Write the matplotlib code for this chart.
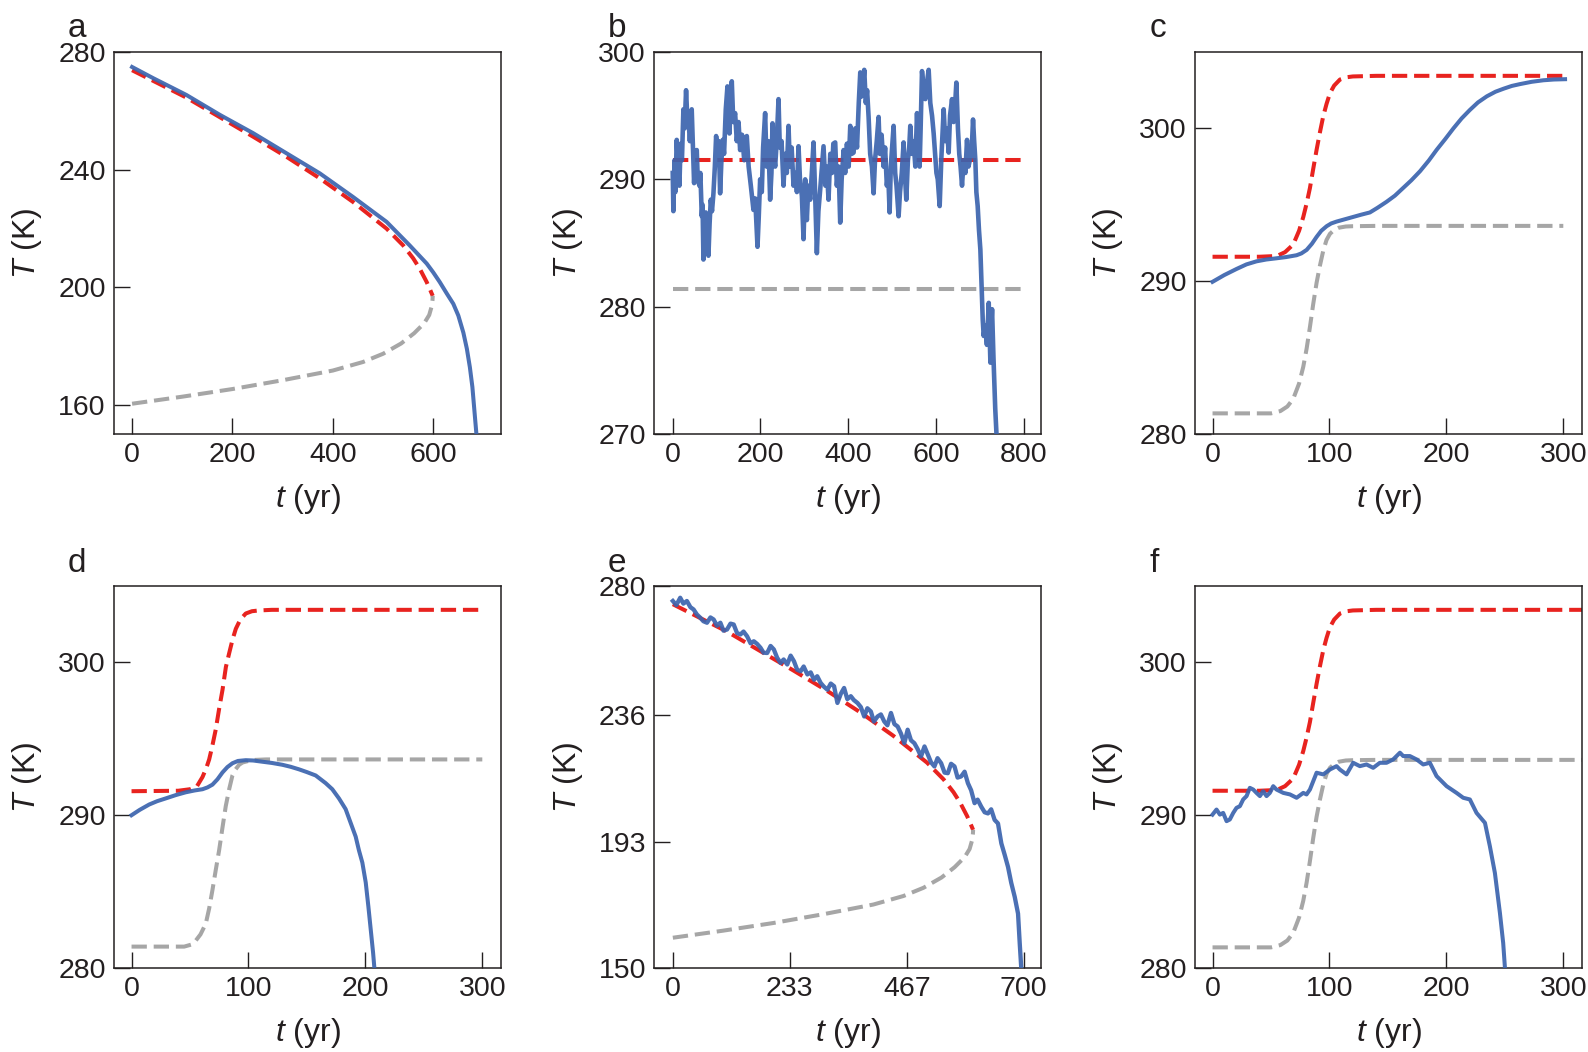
import matplotlib
matplotlib.use("Agg")
from matplotlib import pyplot as plt

# ---- data ----
# panels a and e: stable (red) and unstable (gray) branches
fold_red_t = [0, 50, 108, 175, 241, 308, 374, 440, 507, 540, 560, 573, 587, 594, 599]
fold_red_T = [273.8, 269.5, 264.5, 257.8, 251.2, 244.3, 237.0, 229.0, 219.9, 214.2, 209.8, 206.3, 201.7, 199.0, 197.0]
fold_gray_t = [0, 100, 200, 300, 400, 460, 500, 536, 562, 582, 592, 597, 598.5, 599]
fold_gray_T = [160.3, 162.7, 165.3, 168.3, 171.6, 174.5, 177.3, 180.8, 184.3, 187.7, 190.5, 193.5, 195.5, 197.0]

a_t = [0, 42, 108, 175, 241, 308, 374, 440, 507, 553, 587, 600, 613, 627, 640, 650, 660, 667, 673, 678,
       682, 685, 687, 689]
a_T = [274.9, 271.1, 265.4, 258.6, 252.4, 245.5, 238.7, 230.7, 222.2, 214.2, 208.0, 205.0, 201.7, 197.8,
       194.3, 190.3, 184.5, 179.0, 172.7, 166.0, 158.0, 152.0, 148.0, 145.0]

# panel b
b_eq_t = [0, 800]
b_red = [291.5, 291.5]
b_gray = [281.4, 281.4]
b_t = [0, 1.5, 4, 6, 9.1, 12, 15.2, 18, 21, 24.3, 27, 30.4, 33, 35.7, 39, 43.3, 46, 48.7, 51, 54.8, 57,
       60.8, 63, 66.2, 68, 70.0, 72.5, 75.3, 78, 81.4, 84, 86.7, 89.5, 92.8, 96, 98.9, 102, 105, 108, 111,
       114, 117, 120.9, 124.7, 127, 129.3, 132, 134.6, 138, 142.2, 146, 150, 153.6, 158, 163, 168.8, 173,
       178, 184, 188, 193.2, 196, 199.2, 203, 206, 210.6, 214, 218, 222, 225, 227.4, 230, 233.5, 237,
       241.1, 244, 248, 252.5, 256, 260, 263.9, 267, 271, 275.3, 280, 283, 286.7, 290, 294.3, 298.1,
       301.9, 305.7, 309, 313.3, 317, 320.9, 324, 328.5, 332, 336.1, 340, 343.7, 348, 351, 355.1, 359,
       363, 366, 370.3, 374, 378, 381.7, 385, 389.4, 393, 397, 401, 404.6, 408, 412.2, 416, 420, 424,
       427.4, 430, 433.5, 436.5, 440, 443, 446.4, 450, 454, 457.8, 461, 465, 469.2, 472, 476, 480.6, 484,
       488, 491, 494.3, 497, 500, 503.4, 507, 510, 514.8, 518, 522, 526.2, 529, 532.3, 536, 539, 541.4,
       545, 549, 552.9, 556.7, 559, 562.7, 565, 568.1, 572, 575.7, 579, 583.3, 587, 591, 594.7, 598, 601,
       604, 608.4, 612, 617.5, 621, 625, 628.9, 632, 636.5, 640, 643, 646.4, 650, 653, 656, 659.3, 663,
       667, 670.7, 674, 677, 681, 684.4, 687, 689.7, 692, 695, 698, 701.1, 703, 704.9, 706.5, 708.7, 712,
       716, 720.2, 722, 724, 726, 727.8, 731, 735, 740]
b_T = [290.5, 287.5, 291.5, 289.0, 293.1, 291.0, 289.5, 292.8, 291.5, 295.5, 294.0, 297.0, 295.0, 294.9,
       293.0, 295.5, 292.5, 289.7, 291.5, 292.3, 290.0, 289.5, 290.5, 287.1, 288.0, 283.7, 286.0, 287.4,
       285.0, 284.0, 286.5, 288.4, 287.5, 288.9, 291.0, 293.4, 292.0, 293.0, 288.9, 291.5, 293.1, 292.0,
       295.5, 297.3, 295.5, 293.6, 296.0, 297.7, 294.5, 295.2, 293.0, 294.5, 292.3, 293.5, 291.5, 293.4,
       291.0, 289.5, 287.6, 288.5, 284.7, 287.0, 290.0, 289.0, 292.5, 295.2, 291.0, 293.0, 288.4, 290.5,
       294.4, 292.0, 291.0, 293.0, 296.3, 292.5, 293.0, 289.5, 292.0, 290.5, 294.2, 291.0, 292.5, 289.5,
       290.5, 289.0, 292.6, 290.0, 288.7, 285.3, 290.0, 286.8, 289.5, 288.4, 290.5, 292.9, 289.5, 284.2,
       287.5, 289.2, 291.0, 292.6, 289.5, 291.0, 288.4, 292.0, 290.5, 292.8, 292.9, 289.5, 291.0, 286.6,
       290.0, 292.3, 290.5, 292.8, 291.0, 294.2, 292.0, 292.1, 294.0, 292.5, 296.0, 298.4, 296.5, 297.3,
       298.6, 296.0, 297.0, 294.9, 292.0, 291.0, 288.9, 291.5, 293.0, 294.9, 292.0, 293.5, 291.0, 292.5,
       289.5, 290.5, 287.4, 291.0, 292.5, 294.2, 290.5, 289.5, 287.1, 289.0, 290.5, 292.9, 290.5, 288.4,
       291.5, 292.5, 294.2, 292.0, 293.0, 291.0, 295.2, 293.0, 291.0, 294.0, 298.5, 297.0, 296.3, 297.5,
       298.6, 296.0, 295.0, 293.6, 292.0, 290.5, 290.0, 287.9, 291.5, 295.5, 293.0, 294.0, 292.1, 295.0,
       296.3, 294.5, 295.5, 297.6, 294.0, 292.0, 291.0, 289.5, 291.5, 290.5, 293.1, 291.0, 291.5, 292.0,
       294.7, 293.0, 291.5, 289.0, 287.9, 286.0, 284.5, 282.5, 280.5, 279.0, 277.7, 278.5, 277.0, 280.3,
       278.0, 275.6, 278.5, 279.8, 276.0, 272.0, 268.5]

# panels c and f: shifting equilibria
cf_red_t = [0, 40, 55, 62, 69, 74, 77.6, 80.5, 83.3, 86, 89, 92, 94.7, 97.5, 100.4, 104, 109, 115, 120, 140]
cf_red_T = [291.6, 291.6, 291.65, 291.9, 292.4, 293.3, 294.2, 295.1, 296.1, 297.3, 298.6, 299.8, 300.8,
            301.6, 302.3, 302.8, 303.2, 303.35, 303.4, 303.44]
cf_gray_t = [0, 50, 58, 64, 69, 74, 77.6, 80.5, 83.3, 86.1, 89, 91.8, 94.7, 97.5, 100.4, 104, 108, 114, 120, 140]
cf_gray_T = [281.35, 281.35, 281.5, 281.8, 282.3, 283.3, 284.4, 285.6, 287.0, 288.5, 289.9, 291.0, 292.0,
             292.7, 293.1, 293.35, 293.5, 293.58, 293.6, 293.62]
c_t_end = 300
f_t_end = 320

c_t = [0, 10, 20.5, 29, 37.6, 46, 54.8, 63, 71.9, 76, 80.5, 85, 89, 93, 97.6, 101.5, 106, 113, 120, 127,
       134.6, 141, 148.9, 156, 163, 170, 177.5, 185, 191.7, 199, 206, 213, 220, 227, 234.6, 242, 249, 256,
       263, 273, 283, 292, 301.5]
c_T = [289.96, 290.4, 290.8, 291.1, 291.3, 291.42, 291.5, 291.58, 291.7, 291.82, 292.05, 292.45, 292.9,
       293.3, 293.6, 293.78, 293.9, 294.05, 294.2, 294.35, 294.5, 294.8, 295.2, 295.6, 296.1, 296.6, 297.2,
       297.9, 298.6, 299.3, 300.0, 300.65, 301.2, 301.7, 302.1, 302.4, 302.6, 302.78, 302.9, 303.05, 303.15,
       303.2, 303.22]

# panel d
d_red_t = [0, 40, 50, 56, 60.7, 64, 66.4, 69, 72, 75, 77.8, 80.7, 83.5, 86.4, 89.2, 93, 97.7, 103, 109, 120, 300]
d_red_T = [291.57, 291.6, 291.7, 291.9, 292.5, 293.1, 293.65, 294.5, 295.6, 297.0, 298.2, 299.7, 300.6,
           301.5, 302.2, 302.8, 303.2, 303.35, 303.4, 303.44, 303.44]
d_gray_t = [0, 45, 52, 55, 59, 63.5, 66.4, 69.2, 72, 74.9, 77.8, 80.6, 83.5, 86.3, 89, 92, 95, 100, 106, 115, 300]
d_gray_T = [281.4, 281.4, 281.55, 281.8, 282.2, 282.9, 283.9, 285.1, 286.4, 287.7, 289.2, 290.6, 291.7,
            292.6, 293.0, 293.3, 293.45, 293.55, 293.62, 293.65, 293.65]
d_t = [0, 7, 15.1, 22, 29.3, 38, 46.4, 54, 60.7, 65, 69.2, 73.5, 77.8, 82, 86.3, 91, 97.7, 104, 111.9,
       120, 129, 136, 143.3, 150, 157.5, 166, 171.7, 177.4, 183.1, 187.4, 191.7, 194.5, 197.4, 200.3,
       202.6, 204.6, 206.6, 207.7, 208.5]
d_T = [290.0, 290.35, 290.7, 290.92, 291.1, 291.32, 291.5, 291.62, 291.7, 291.82, 292.0, 292.35, 292.8,
       293.15, 293.4, 293.55, 293.6, 293.58, 293.5, 293.42, 293.3, 293.17, 293.0, 292.82, 292.6, 292.1,
       291.7, 291.1, 290.4, 289.5, 288.6, 287.7, 286.9, 285.6, 284.0, 282.5, 281.0, 280.0, 279.0]

# panel e
e_t = [0, 7, 14.7, 21, 28, 35, 41.4, 48, 54.7, 61, 68.1, 75, 81.4, 88, 94.8, 101, 108.1, 115, 121.4, 128,
       134.8, 141, 148.1, 155, 161.5, 168, 174.8, 181, 188.2, 195, 201.5, 208, 214.9, 221, 228.2, 235,
       241.6, 248, 254.9, 261, 268.3, 275, 281.6, 288, 294.9, 301, 308.3, 315, 321.6, 328.3, 335, 341.6,
       348, 355, 361, 368.3, 375, 381.7, 388, 395, 401, 408.4, 415, 421.7, 428, 435.1, 442, 448.4, 455,
       461.8, 468.4, 475, 481.8, 488, 495.1, 502, 508.5, 515, 521.8, 528, 535.2, 542, 548.5, 555, 561.9,
       568, 575.2, 582, 588.6, 595, 601.9, 608, 615.2, 622, 628.6, 635, 641.9, 648.6, 655.3, 662, 668.6,
       675, 682, 688.6, 692, 695.3]
e_T = [274.9, 273.5, 276.0, 274.0, 274.9, 272.8, 272.0, 270.3, 269.2, 268.0, 267.5, 269.3, 268.6, 266.5,
       267.5, 264.8, 265.2, 267.2, 266.9, 264.0, 263.5, 264.5, 262.9, 260.5, 261.2, 260.3, 259.0, 257.3,
       257.2, 259.6, 258.4, 255.6, 253.8, 255.0, 253.3, 256.3, 254.4, 251.5, 251.0, 252.6, 249.9, 250.6,
       248.1, 249.3, 247.0, 245.8, 244.7, 246.8, 245.9, 240.2, 243.3, 245.3, 241.5, 242.5, 241.2, 240.2,
       238.8, 235.6, 238.4, 237.3, 233.9, 235.6, 236.3, 233.9, 232.6, 236.8, 233.0, 232.2, 229.8, 226.5,
       231.1, 227.5, 226.5, 224.6, 222.0, 225.4, 222.7, 220.0, 218.6, 221.4, 219.7, 216.5, 216.3, 219.5,
       218.6, 214.8, 215.2, 216.8, 212.9, 210.5, 206.1, 207.3, 204.9, 203.0, 202.6, 204.0, 200.4, 199.2,
       192.4, 188.5, 184.4, 179.0, 174.2, 168.5, 158.3, 149.2]

# panel f
f_t = [0, 3.4, 6.3, 9.1, 12, 14.8, 17.7, 20.5, 23.4, 26.2, 29.1, 31.9, 34.8, 37.6, 40.5, 43.3, 46.2, 49,
       51.9, 54.7, 60.5, 66.2, 71.9, 77.6, 80.4, 83.3, 89, 94.7, 100.4, 106.1, 108.9, 114.6, 120.3, 126,
       131.7, 137.4, 143.1, 148.8, 154.5, 160.3, 163.1, 168.8, 174.5, 180.2, 185.9, 191.6, 200.2, 208.7,
       214.4, 220.1, 225.8, 233, 237.2, 241.5, 245.8, 248.6, 250.1, 250.6]
f_T = [290.04, 290.37, 290.04, 290.15, 289.61, 289.72, 290.15, 290.48, 290.59, 291.03, 291.25, 291.79,
       291.68, 291.46, 291.25, 291.57, 291.25, 291.46, 291.9, 291.68, 291.46, 291.36, 291.14, 291.46,
       291.36, 291.68, 292.78, 292.67, 292.99, 293.21, 292.99, 292.67, 293.43, 293.21, 293.32, 293.1,
       293.43, 293.43, 293.65, 294.09, 293.87, 293.87, 293.65, 293.32, 293.43, 292.56, 291.9, 291.46,
       291.14, 291.03, 290.15, 289.5, 287.97, 286.22, 283.6, 281.63, 280.0, 279.0]

BLUE = '#3B64AE'
RED = '#E8231F'
GRAY = '#A6A6A6'
INK = '#231F20'

plt.rcParams['font.family'] = ['Liberation Sans', 'DejaVu Sans']
plt.rcParams['mathtext.fontset'] = 'custom'
plt.rcParams['mathtext.rm'] = 'Liberation Sans'
plt.rcParams['mathtext.it'] = 'Liberation Sans:italic'

LW = 2.9
DASH = (3.8, 1.7)


def setup(ax, xlim, ylim, xticks, yticks):
    ax.set_xlim(*xlim)
    ax.set_ylim(*ylim)
    ax.set_xticks(xticks)
    ax.set_yticks(yticks)
    ax.tick_params(direction='in', length=11.5, width=1.0, labelsize=20.5, colors=INK,
                   top=False, right=False, pad=6)
    for s in ax.spines.values():
        s.set_linewidth(1.1)
        s.set_color(INK)
    ax.set_xlabel('$t$ (yr)', fontsize=23, color=INK)
    ax.set_ylabel('$T$ (K)', fontsize=23, color=INK)
    ax.xaxis.set_label_coords(0.5, -0.125)
    ax.yaxis.set_label_coords(-0.18, 0.5)


def dashed(ax, t, T, color):
    ax.plot(t, T, color=color, lw=LW, dashes=DASH, zorder=2)


def solid(ax, t, T, lw=LW):
    ax.plot(t, T, color=BLUE, lw=lw, alpha=0.92, zorder=3, solid_joinstyle='round')


fig = plt.figure(figsize=(15.88, 10.52), dpi=100, facecolor='w')
W, H = 1588, 1052
lefts = [114, 654.3, 1195]
width = 387
tops = [52, 586]
height = 382

axes = []
for r in range(2):
    for c in range(3):
        rect = [lefts[c] / W, 1 - (tops[r] + height) / H, width / W, height / H]
        axes.append(fig.add_axes(rect))
ax_a, ax_b, ax_c, ax_d, ax_e, ax_f = axes

# a
dashed(ax_a, fold_red_t, fold_red_T, RED)
dashed(ax_a, fold_gray_t, fold_gray_T, GRAY)
solid(ax_a, a_t, a_T)
setup(ax_a, (-36, 735), (150, 280), [0, 200, 400, 600], [160, 200, 240, 280])

# b
dashed(ax_b, b_eq_t, b_red, RED)
dashed(ax_b, b_eq_t, b_gray, GRAY)
solid(ax_b, b_t, b_T, lw=3.3)
setup(ax_b, (-42, 840), (270, 300), [0, 200, 400, 600, 800], [270, 280, 290, 300])

# c
dashed(ax_c, cf_red_t + [c_t_end], cf_red_T + [cf_red_T[-1]], RED)
dashed(ax_c, cf_gray_t + [c_t_end], cf_gray_T + [cf_gray_T[-1]], GRAY)
solid(ax_c, c_t, c_T)
setup(ax_c, (-15, 316), (280, 305), [0, 100, 200, 300], [280, 290, 300])

# d
dashed(ax_d, d_red_t, d_red_T, RED)
dashed(ax_d, d_gray_t, d_gray_T, GRAY)
solid(ax_d, d_t, d_T)
setup(ax_d, (-15, 316), (280, 305), [0, 100, 200, 300], [280, 290, 300])

# e
dashed(ax_e, fold_red_t, fold_red_T, RED)
dashed(ax_e, fold_gray_t, fold_gray_T, GRAY)
solid(ax_e, e_t, e_T, lw=3.1)
setup(ax_e, (-37, 735), (150, 280), [0, 233, 467, 700], [150, 193, 236, 280])

# f
dashed(ax_f, cf_red_t + [f_t_end], cf_red_T + [cf_red_T[-1]], RED)
dashed(ax_f, cf_gray_t + [f_t_end], cf_gray_T + [cf_gray_T[-1]], GRAY)
solid(ax_f, f_t, f_T)
setup(ax_f, (-15, 316), (280, 305), [0, 100, 200, 300], [280, 290, 300])

letters = ['a', 'b', 'c', 'd', 'e', 'f']
letter_x = [68, 608, 1150]
letter_y = [36.7, 571.5]
for i, lab in enumerate(letters):
    r, c = divmod(i, 3)
    fig.text(letter_x[c] / W, 1 - letter_y[r] / H, lab, fontsize=24, color=INK,
             ha='left', va='baseline')

fig.savefig('out.png', dpi=100, facecolor='w')
